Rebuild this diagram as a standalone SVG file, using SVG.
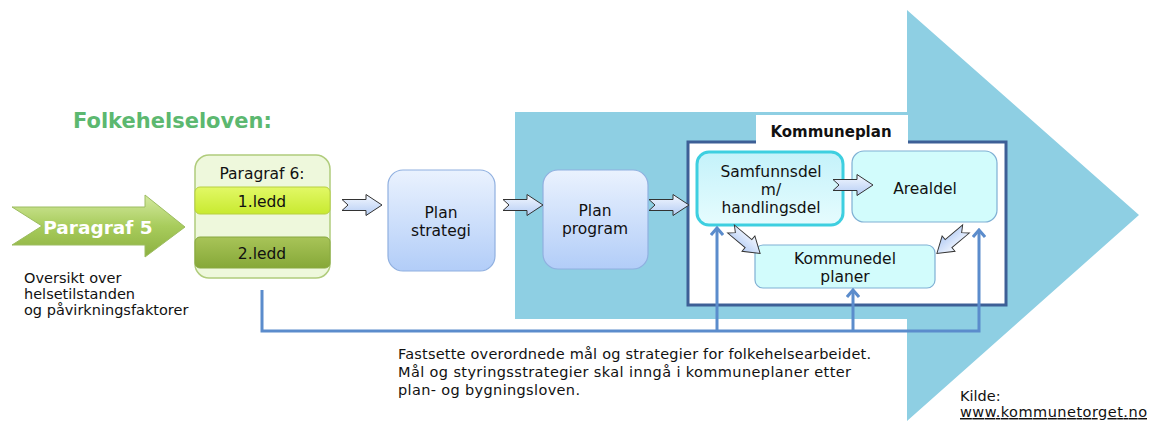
<svg xmlns="http://www.w3.org/2000/svg" width="1150" height="421" viewBox="0 0 1150 421">
<style>
text{font-family:"DejaVu Sans","Liberation Sans",sans-serif;fill:#111}
.t13{font-size:14.5px}
.t14{font-size:15.5px}
.mid{text-anchor:middle}
.blk{fill:url(#gArr);stroke:#333;stroke-width:1}
.fb{fill:none;stroke:#5b8ccc;stroke-width:3}
</style>
<defs>
<linearGradient id="gArr" x1="0" y1="0" x2="0" y2="1"><stop offset="0" stop-color="#f4f8ff"/><stop offset="1" stop-color="#b4ccf4"/></linearGradient>
<linearGradient id="gPlan" x1="0" y1="0" x2="0" y2="1"><stop offset="0" stop-color="#eaf2fe"/><stop offset="1" stop-color="#b2cdf8"/></linearGradient>
<linearGradient id="gSam" x1="0" y1="0" x2="0" y2="1"><stop offset="0" stop-color="#c4f2fa"/><stop offset="1" stop-color="#e6fcfe"/></linearGradient>
<linearGradient id="gP5" x1="0" y1="0" x2="0" y2="1"><stop offset="0" stop-color="#d4eaa0"/><stop offset="0.5" stop-color="#a8cc5c"/><stop offset="1" stop-color="#8cb040"/></linearGradient>
<linearGradient id="gL1" x1="0" y1="0" x2="0" y2="1"><stop offset="0" stop-color="#e2f866"/><stop offset="1" stop-color="#c8ea30"/></linearGradient>
<linearGradient id="gL2" x1="0" y1="0" x2="0" y2="1"><stop offset="0" stop-color="#a8c458"/><stop offset="1" stop-color="#86a838"/></linearGradient>
<path id="ba" d="M0,-5.5 L24,-5.5 L24,-10.5 L40,0 L24,10.5 L24,5.5 L0,5.5 L6,0 Z"/>
<marker id="up" viewBox="0 0 10 14" refX="8" refY="7" markerWidth="10" markerHeight="14" markerUnits="userSpaceOnUse" orient="auto">
<polyline points="1,1 8,7 1,13" fill="none" stroke="#5b8ccc" stroke-width="3"/>
</marker>
</defs>

<!-- big background arrow -->
<g id="bigArrow">
<path d="M515,112 L907,112 L907,10 L1139,215 L907,421 L907,319 L515,319 Z" fill="#8ecfe3"/>
</g>

<text x="73" y="128" font-size="21" font-weight="bold" style="fill:#5cb870">Folkehelseloven:</text>

<g id="paragraf5">
<path d="M12,207 L145,207 L145,195 L185,227 L145,257 L145,245 L12,245 L42,226 Z" fill="url(#gP5)" stroke="#9cbc60" stroke-width="1"/>
<text x="98" y="234" class="mid" font-size="18.5" font-weight="bold" style="fill:#fff">Paragraf 5</text>
</g>

<g id="oversikt">
<text x="24" y="283" class="t13">Oversikt over</text>
<text x="24" y="299" class="t13">helsetilstanden</text>
<text x="24" y="315" class="t13">og påvirkningsfaktorer</text>
</g>

<g id="paragraf6">
<rect x="195" y="155" width="135" height="123" rx="14" fill="#eef8dc" stroke="#b0cc7c" stroke-width="1.5"/>
<text x="262" y="179" class="mid t14">Paragraf 6:</text>
<rect x="195" y="187" width="135" height="27" rx="5" fill="url(#gL1)" stroke="#b8d040" stroke-width="1"/>
<text x="262" y="207" class="mid t14">1.ledd</text>
<rect x="195" y="237" width="135" height="31" rx="5" fill="url(#gL2)" stroke="#88a840" stroke-width="1"/>
<text x="262" y="259" class="mid t14">2.ledd</text>
</g>

<g id="planstrategi">
<rect x="388" y="170" width="107" height="101" rx="15" fill="url(#gPlan)" stroke="#90b0e0" stroke-width="1.2"/>
<text x="441" y="218" class="mid t14">Plan</text>
<text x="441" y="236" class="mid t14">strategi</text>
</g>

<g id="planprogram">
<rect x="543" y="170" width="105" height="99" rx="15" fill="url(#gPlan)" stroke="#90b0e0" stroke-width="1.2"/>
<text x="595" y="216" class="mid t14">Plan</text>
<text x="595" y="234" class="mid t14">program</text>
</g>

<g id="kommuneplan">
<rect x="688" y="142" width="318" height="163" fill="#fff" stroke="#3d5f96" stroke-width="3"/>
<rect x="756" y="115" width="152" height="29" fill="#fff"/>
<text x="831" y="137" class="mid" font-size="15" font-weight="bold">Kommuneplan</text>
</g>

<g id="samfunnsdel">
<rect x="697" y="152" width="146" height="73" rx="12" fill="url(#gSam)" stroke="#3ecfe0" stroke-width="3"/>
<text x="771" y="177" class="mid t14">Samfunnsdel</text>
<text x="771" y="195" class="mid t14">m/</text>
<text x="771" y="213" class="mid t14">handlingsdel</text>
</g>

<g id="arealdel">
<rect x="852" y="151" width="145" height="71" rx="12" fill="#d2fcfc" stroke="#7fb0d4" stroke-width="1.2"/>
<text x="925" y="194" class="mid t14">Arealdel</text>
</g>

<g id="kommunedel">
<rect x="755" y="245" width="180" height="43" rx="8" fill="#d2fcfc" stroke="#7fb0d4" stroke-width="1.2"/>
<text x="845" y="264" class="mid t14">Kommunedel</text>
<text x="845" y="282" class="mid t14">planer</text>
</g>

<g id="connectors">
<use href="#ba" class="blk" transform="translate(342,205)"/>
<use href="#ba" class="blk" transform="translate(503,205)"/>
<use href="#ba" class="blk" transform="translate(649,205)"/>
<use href="#ba" class="blk" transform="translate(833,185)"/>
<use href="#ba" class="blk" transform="translate(731,229) rotate(40) scale(0.95)"/>
<use href="#ba" class="blk" transform="translate(966,229) rotate(140) scale(0.95)"/>
<polyline class="fb" points="262,290 262,331 979,331 979,230" marker-end="url(#up)"/>
<line class="fb" x1="717" y1="331" x2="717" y2="228" marker-end="url(#up)"/>
<line class="fb" x1="853" y1="331" x2="853" y2="290" marker-end="url(#up)"/>
</g>

<g id="note">
<text x="398" y="359" class="t13" textLength="473">Fastsette overordnede mål og strategier for folkehelsearbeidet.</text>
<text x="398" y="377" class="t13" textLength="453">Mål og styringsstrategier skal inngå i kommuneplaner etter</text>
<text x="398" y="395" class="t13" textLength="182">plan- og bygningsloven.</text>
</g>

<g id="kilde">
<text x="960" y="401" class="t13">Kilde:</text>
<text x="960" y="417" class="t13" textLength="187" text-decoration="underline">www.kommunetorget.no</text>
</g>
</svg>
